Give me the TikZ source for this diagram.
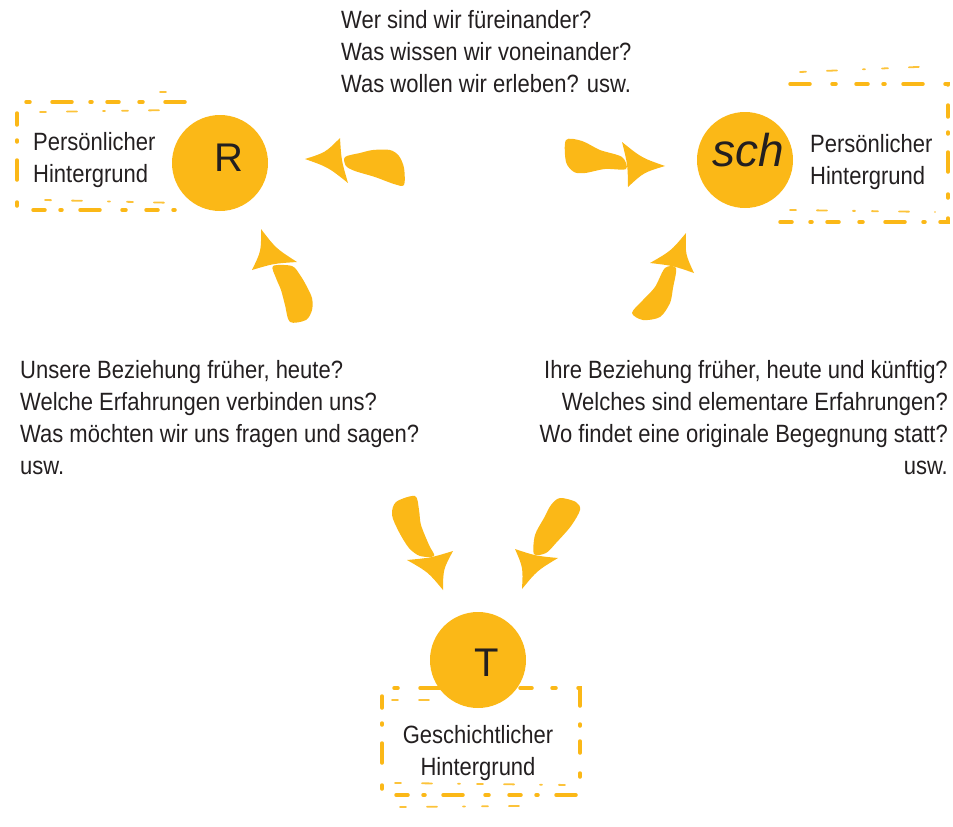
\documentclass[tikz,border=0pt]{standalone}
\usepackage{fontspec}
\setmainfont{Liberation Sans}[FakeStretch=0.88]
\newfontfamily\handfont{Liberation Sans}
\usetikzlibrary{calc,positioning}

\definecolor{brushyellow}{HTML}{FBB817}
\definecolor{inkgray}{HTML}{231F20}

% brush arrow head: corner, tip, corner
\newcommand{\brushhead}[3]{%
  \coordinate (hA) at #1;
  \coordinate (hT) at #2;
  \coordinate (hB) at #3;
  \coordinate (hC) at (barycentric cs:hA=1,hT=1,hB=1);
  \fill[brush] (hA) .. controls ($(hA)!.5!(hT)!.35!(hC)$) .. (hT)
                    .. controls ($(hT)!.5!(hB)!.35!(hC)$) .. (hB)
                    .. controls ($(hB)!.5!(hA)!.2!(hC)$) .. (hA) -- cycle;
}

\begin{document}
\begin{tikzpicture}[x=1pt,y=-1pt,
    brush/.style={fill=brushyellow},
    person/.style={circle,fill=brushyellow,minimum size=96pt,inner sep=0pt},
    hand/.style={text=inkgray,font=\handfont\fontsize{40}{40}\selectfont},
    question/.style={text=inkgray,inner sep=0pt,font=\fontsize{25}{32}\selectfont},
    bgframe/.style={draw=brushyellow,line width=3.5pt,line cap=round,
      dash pattern=on 20pt off 22pt on 4pt off 20pt on 12pt off 15pt on 2pt off 18pt},
    bgscatter/.style={draw=brushyellow!85,line width=1.8pt,line cap=round,
      dash pattern=on 6pt off 21pt on 10pt off 26pt on 2pt off 17pt}]
  \useasboundingbox (0,0) rectangle (953,827);

  % background frames
  \draw[bgframe] (185,102) -- (17,102) -- (17,210) -- (185,210);
  \draw[bgscatter] (40,112) -- (175,110) (45,200) -- (180,203) (160,92) -- (175,92);
  \draw[bgframe] (790,84) -- (948,84) -- (948,222) -- (780,222);
  \draw[bgscatter] (800,72) -- (940,66) (790,210) -- (935,212);
  \draw[bgframe] (440,688) -- (382,688) -- (382,795) -- (580,795) -- (580,688) -- (520,688);
  \draw[bgscatter] (392,700) -- (440,700) (395,783) -- (570,785) (400,807) -- (520,806);

  % persons
  \node[person] (R) at (220,163) {};
  \node[hand] at (229,158) {R};
  \node[person] (Sch) at (745,160) {};
  \node[hand,font=\handfont\fontsize{46}{46}\selectfont] at (748,150) {\itshape sch};
  \node[person] (T) at (478,660) {};
  \node[hand] at (487,663) {T};

  % texts
  \node[question,anchor=north west,align=left] (bgR) at (33,132)
    {Persönlicher\\Hintergrund};
  \node[question,anchor=north west,align=left] (bgSch) at (810,134)
    {Persönlicher\\Hintergrund};
  \node[question,anchor=north,align=center] (bgT) at (478,725)
    {Geschichtlicher\\Hintergrund};
  \node[question,anchor=north west,align=left] (qTop) at (341,10)
    {Wer sind wir füreinander?\\Was wissen wir voneinander?\\Was wollen wir erleben? usw.};
  \node[question,anchor=north west,align=left] (qLeft) at (20,360)
    {Unsere Beziehung früher, heute?\\Welche Erfahrungen verbinden uns?\\Was möchten wir uns fragen und sagen?\\usw.};
  \node[question,anchor=north east,align=right] (qRight) at (948,360)
    {Ihre Beziehung früher, heute und künftig?\\Welches sind elementare Erfahrungen?\\Wo findet eine originale Begegnung statt?\\usw.};

  % arrows
  \fill[brush] plot[smooth cycle,tension=.5] coordinates
    {(345,157) (360,153) (373,150) (390,150) (399,156) (404,168) (404,185)
     (394,184) (375,177) (355,171) (346,166)};
  \brushhead{(340,138)}{(305,159)}{(348,183)}
  \fill[brush] plot[smooth cycle,tension=.5] coordinates
    {(566,140) (582,141) (600,150) (622,157) (626,169) (605,169) (585,173)
     (574,172) (566,162)};
  \brushhead{(622,142)}{(665,166)}{(628,187)}
  \fill[brush] plot[smooth cycle,tension=.5] coordinates
    {(273,266) (292,266) (300,275) (306,285) (312,298) (312,310) (306,320)
     (290,322) (285,305) (281,290) (276,278)};
  \brushhead{(252,270)}{(261,229)}{(297,262)}
  \fill[brush] plot[smooth cycle,tension=.5] coordinates
    {(665,268) (676,268) (673,288) (670,303) (660,317) (643,320) (632,313)
     (643,300) (655,287)};
  \brushhead{(650,263)}{(686,233)}{(694,273)}
  \fill[brush] plot[smooth cycle,tension=.5] coordinates
    {(396,502) (415,496) (419,510) (421,525) (429,545) (434,556) (420,556)
     (409,548) (399,532) (392,515)};
  \brushhead{(407,560)}{(443,590)}{(453,551)}
  \fill[brush] plot[smooth cycle,tension=.5] coordinates
    {(560,498) (576,502) (580,510) (571,526) (556,543) (546,553) (534,554)
     (535,535) (544,518) (551,505)};
  \brushhead{(515,549)}{(522,589)}{(558,558)}
\end{tikzpicture}
\end{document}
